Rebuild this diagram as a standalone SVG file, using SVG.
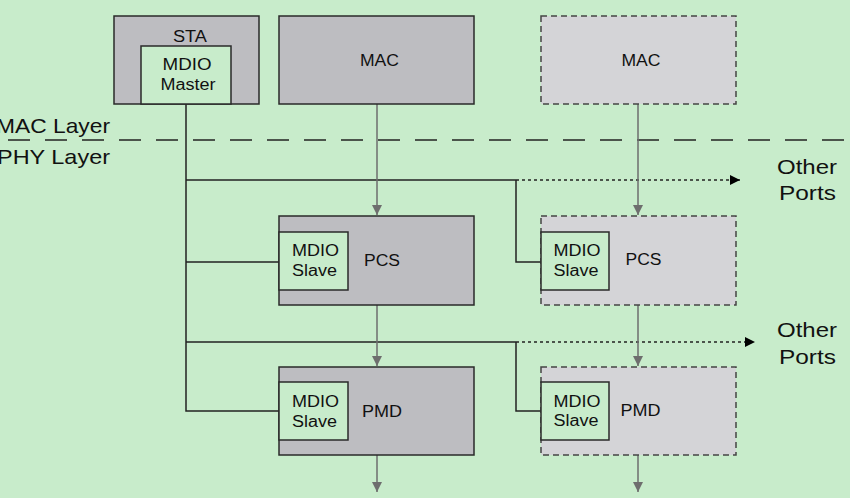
<svg xmlns="http://www.w3.org/2000/svg" width="850" height="498" viewBox="0 0 850 498">
<defs>
<style>
.box{fill:#BDBDC1;stroke:#2a2a2a;stroke-width:1.5}
.dbox{fill:#D4D4D7;stroke:#444;stroke-width:1.5;stroke-dasharray:6,4}
.in{fill:#C8ECCB;stroke:#2a2a2a;stroke-width:1.5}
.t{font-family:"Liberation Sans",Arial,sans-serif;font-size:16px;fill:#111;text-anchor:middle}
.big{font-family:"Liberation Sans",Arial,sans-serif;font-size:21px;fill:#111}
.w{fill:none;stroke:#222;stroke-width:1.5}
.g{fill:none;stroke:#6e6e6e;stroke-width:1.5}
.dot{fill:none;stroke:#222;stroke-width:1.5;stroke-dasharray:3,3}
</style>
<marker id="ga" viewBox="0 0 10 10" refX="10" refY="5" markerWidth="10" markerHeight="10" markerUnits="userSpaceOnUse" orient="auto">
<path d="M0,0 L10,5 L0,10 Z" fill="#6e6e6e"/>
</marker>
<marker id="ba" viewBox="0 0 10 10" refX="10" refY="5" markerWidth="10" markerHeight="10" markerUnits="userSpaceOnUse" orient="auto">
<path d="M0,0 L10,5 L0,10 Z" fill="#000"/>
</marker>
</defs>
<rect width="850" height="498" fill="#C8ECCB"/>

<g id="layers">
<line x1="8" y1="140" x2="850" y2="140" stroke="#222" stroke-width="1.5" stroke-dasharray="22,15"/>
<text class="big" x="-4" y="133" textLength="114" lengthAdjust="spacingAndGlyphs">MAC Layer</text>
<text class="big" x="-3" y="164" textLength="113" lengthAdjust="spacingAndGlyphs">PHY Layer</text>
</g>

<g id="connectors">
<polyline class="w" points="186,104 186,411 279,411"/>
<line class="w" x1="186" y1="262" x2="279" y2="262"/>
<line class="w" x1="186" y1="180" x2="516" y2="180"/>
<polyline class="w" points="516,180 516,262 541,262"/>
<line class="dot" x1="516" y1="180" x2="740" y2="180" marker-end="url(#ba)"/>
<line class="w" x1="186" y1="342" x2="516" y2="342"/>
<polyline class="w" points="516,342 516,411 541,411"/>
<line class="dot" x1="516" y1="342" x2="755" y2="342" marker-end="url(#ba)"/>
<line class="g" x1="377" y1="104" x2="377" y2="215" marker-end="url(#ga)"/>
<line class="g" x1="377" y1="305" x2="377" y2="366" marker-end="url(#ga)"/>
<line class="g" x1="377" y1="455" x2="377" y2="492" marker-end="url(#ga)"/>
<line class="g" x1="638" y1="104" x2="638" y2="215" marker-end="url(#ga)"/>
<line class="g" x1="638" y1="305" x2="638" y2="366" marker-end="url(#ga)"/>
<line class="g" x1="638" y1="455" x2="638" y2="492" marker-end="url(#ga)"/>
</g>

<g id="sta">
<rect class="box" x="114" y="16" width="145" height="88"/>
<text class="t" x="190" y="42" textLength="34" lengthAdjust="spacingAndGlyphs">STA</text>
<rect class="in" x="141" y="46" width="90" height="58"/>
<text class="t" x="187" y="70" textLength="49" lengthAdjust="spacingAndGlyphs">MDIO</text>
<text class="t" x="188" y="90" textLength="55" lengthAdjust="spacingAndGlyphs">Master</text>
</g>

<g id="mac1">
<rect class="box" x="279" y="16" width="195" height="88"/>
<text class="t" x="379.5" y="66" textLength="39" lengthAdjust="spacingAndGlyphs">MAC</text>
</g>

<g id="mac2">
<rect class="dbox" x="541" y="16" width="195" height="88"/>
<text class="t" x="641" y="66" textLength="39" lengthAdjust="spacingAndGlyphs">MAC</text>
</g>

<g id="pcs1">
<rect class="box" x="279" y="216" width="195" height="89"/>
<rect class="in" x="279" y="232" width="69" height="58"/>
<text class="t" x="315.5" y="256" textLength="47" lengthAdjust="spacingAndGlyphs">MDIO</text>
<text class="t" x="314.5" y="276" textLength="45" lengthAdjust="spacingAndGlyphs">Slave</text>
<text class="t" x="382" y="266" textLength="36" lengthAdjust="spacingAndGlyphs">PCS</text>
</g>

<g id="pcs2">
<rect class="dbox" x="541" y="216" width="195" height="89"/>
<rect class="in" x="541" y="232" width="68" height="58"/>
<text class="t" x="577" y="256" textLength="47" lengthAdjust="spacingAndGlyphs">MDIO</text>
<text class="t" x="576" y="276" textLength="45" lengthAdjust="spacingAndGlyphs">Slave</text>
<text class="t" x="643.5" y="265" textLength="36" lengthAdjust="spacingAndGlyphs">PCS</text>
</g>

<g id="pmd1">
<rect class="box" x="279" y="367" width="195" height="88"/>
<rect class="in" x="279" y="382" width="69" height="58"/>
<text class="t" x="315.5" y="407" textLength="47" lengthAdjust="spacingAndGlyphs">MDIO</text>
<text class="t" x="314.5" y="427" textLength="45" lengthAdjust="spacingAndGlyphs">Slave</text>
<text class="t" x="382" y="417" textLength="40" lengthAdjust="spacingAndGlyphs">PMD</text>
</g>

<g id="pmd2">
<rect class="dbox" x="541" y="367" width="195" height="88"/>
<rect class="in" x="541" y="382" width="68" height="58"/>
<text class="t" x="577" y="407" textLength="47" lengthAdjust="spacingAndGlyphs">MDIO</text>
<text class="t" x="576" y="426" textLength="45" lengthAdjust="spacingAndGlyphs">Slave</text>
<text class="t" x="640.5" y="416" textLength="40" lengthAdjust="spacingAndGlyphs">PMD</text>
</g>

<g id="other1">
<text class="big" x="777" y="174" textLength="60" lengthAdjust="spacingAndGlyphs">Other</text>
<text class="big" x="779" y="200" textLength="57" lengthAdjust="spacingAndGlyphs">Ports</text>
</g>
<g id="other2">
<text class="big" x="777" y="337" textLength="60" lengthAdjust="spacingAndGlyphs">Other</text>
<text class="big" x="779" y="364" textLength="57" lengthAdjust="spacingAndGlyphs">Ports</text>
</g>
</svg>
